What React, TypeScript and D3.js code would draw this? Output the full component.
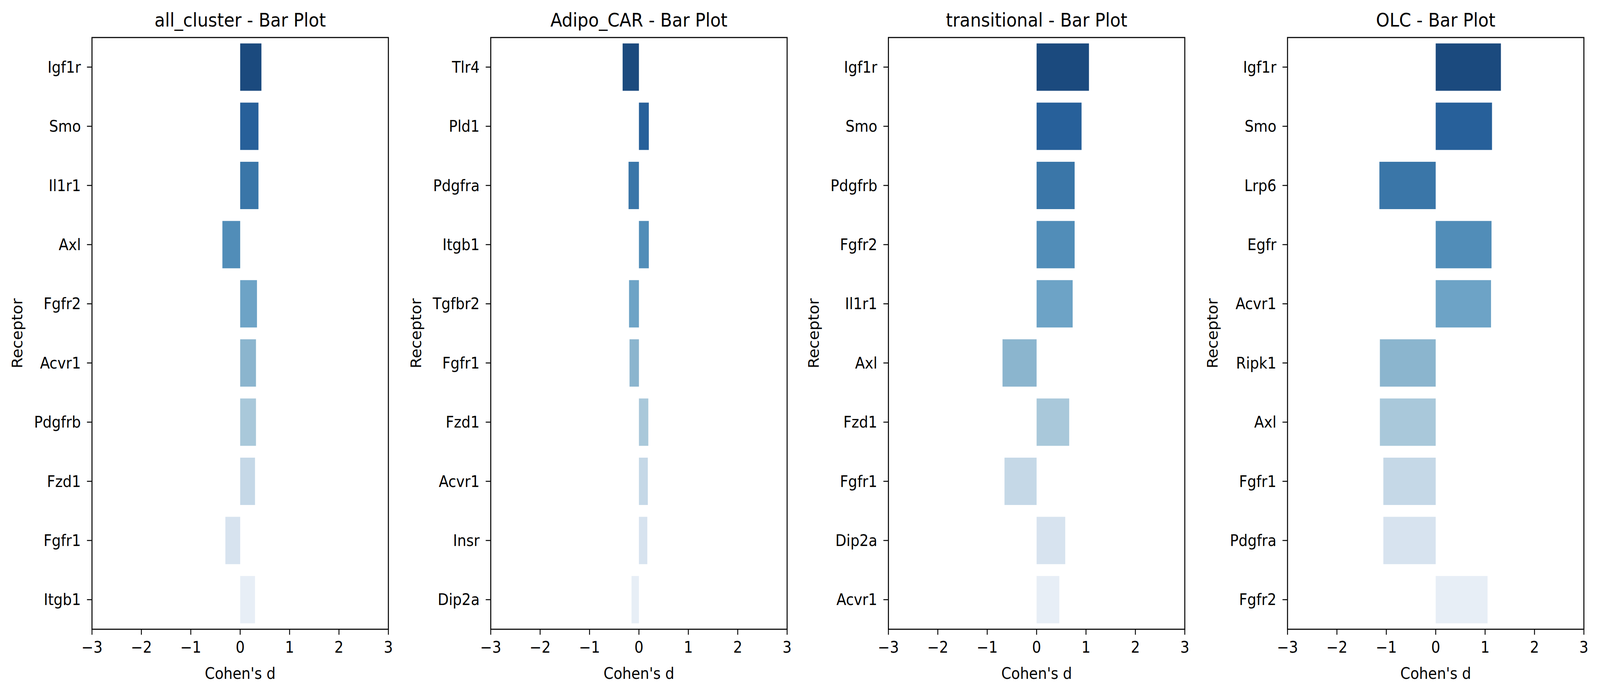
import * as d3 from "d3";
import * as React from "react";

const titles = ["all_cluster", "Adipo_CAR", "transitional", "OLC"];
const receptors1 = ["Igf1r", "Smo", "Il1r1", "Axl", "Fgfr2", "Acvr1", "Pdgfrb", "Fzd1", "Fgfr1", "Itgb1"];
const values1 = [0.43, 0.37, 0.37, -0.36, 0.34, 0.32, 0.32, 0.3, -0.3, 0.3];
const receptors2 = ["Tlr4", "Pld1", "Pdgfra", "Itgb1", "Tgfbr2", "Fgfr1", "Fzd1", "Acvr1", "Insr", "Dip2a"];
const values2 = [-0.33, 0.2, -0.21, 0.2, -0.2, -0.19, 0.19, 0.18, 0.17, -0.15];
const receptors3 = ["Igf1r", "Smo", "Pdgfrb", "Fgfr2", "Il1r1", "Axl", "Fzd1", "Fgfr1", "Dip2a", "Acvr1"];
const values3 = [1.06, 0.91, 0.77, 0.77, 0.73, -0.69, 0.66, -0.65, 0.58, 0.46];
const receptors4 = ["Igf1r", "Smo", "Lrp6", "Egfr", "Acvr1", "Ripk1", "Axl", "Fgfr1", "Pdgfra", "Fgfr2"];
const values4 = [1.32, 1.14, -1.14, 1.13, 1.12, -1.13, -1.13, -1.06, -1.06, 1.05];
const palette = ["#1b4a7e", "#27609a", "#3a76a8", "#518db8", "#6da3c6", "#8bb5ce", "#a9c8da", "#c5d8e7", "#d7e3ef", "#e7eef6"];
const xTicks = [-3, -2, -1, 0, 1, 2, 3];

const panels = [
  { title: titles[0], names: receptors1, vals: values1 },
  { title: titles[1], names: receptors2, vals: values2 },
  { title: titles[2], names: receptors3, vals: values3 },
  { title: titles[3], names: receptors4, vals: values4 },
];
const lefts = [257, 1371, 2482, 3597];
const W = 828, top = 96, bottom = 1610;
const font = "DejaVu Sans, sans-serif";

export default function App() {
  const H = bottom - top;
  return (
    <svg viewBox="0 0 4470 1768" preserveAspectRatio="none"
      style={{ position: "absolute", left: 0, top: 0, width: "100vw", height: "100vh", background: "white" }}
      fontFamily={font}>
      {panels.map((p, i) => {
        const x = d3.scaleLinear().domain([-3, 3]).range([0, W]);
        const y = d3.scaleBand().domain(p.names).range([0, H]).paddingInner(0.2).paddingOuter(0.1);
        return (
          <g key={i} transform={`translate(${lefts[i]},${top})`}>
            {p.vals.map((v, j) => (
              <rect key={j} x={x(Math.min(0, v))} y={y(p.names[j])} width={Math.abs(x(v) - x(0))}
                height={y.bandwidth()} fill={palette[j]} />
            ))}
            <rect x={0} y={0} width={W} height={H} fill="none" stroke="black" strokeWidth={2.8} />
            {p.names.map((n) => (
              <g key={n} transform={`translate(0,${y(n)! + y.bandwidth() / 2})`}>
                <line x1={-14} x2={0} stroke="black" strokeWidth={2.5} />
                <text x={-31} dy="0.35em" textAnchor="end" fontSize={40}>{n}</text>
              </g>
            ))}
            {xTicks.map((t) => (
              <g key={t} transform={`translate(${x(t)},${H})`}>
                <line y2={14} stroke="black" strokeWidth={2.5} />
                <text y={60} textAnchor="middle" fontSize={40}>{t < 0 ? "\u2212" + Math.abs(t) : t}</text>
              </g>
            ))}
            <text x={W / 2} y={H + 127} textAnchor="middle" fontSize={40}>Cohen's d</text>
            <text x={W / 2} y={-28} textAnchor="middle" fontSize={48}>{p.title} - Bar Plot</text>
            <text transform={`translate(-195,${H / 2}) rotate(-90)`}
              textAnchor="middle" fontSize={40}>Receptor</text>
          </g>
        );
      })}
    </svg>
  );
}
